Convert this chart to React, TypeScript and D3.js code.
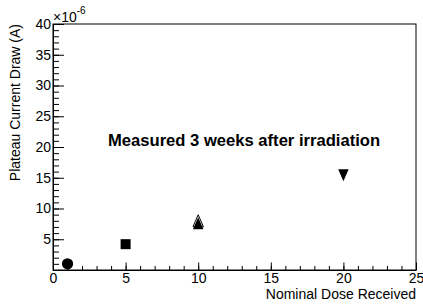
import { useEffect, useRef } from 'react';
import * as d3 from 'd3';

// dose (x) vs plateau current (y, in units of 1e-6 A)
const doses = [1, 5, 10, 10, 20];
const currents = [1.0, 4.2, 8.0, 7.6, 15.4];
const markers = ['circle', 'square', 'triangleUpOpen', 'triangleUp', 'triangleDown'];

const xTicks = [0, 5, 10, 15, 20, 25];
const yTicks = [5, 10, 15, 20, 25, 30, 35, 40];

const W = 423;
const H = 304;
const margin = { top: 24, right: 7, bottom: 34, left: 53 };
const FONT = '"Liberation Sans", Arial, Helvetica, sans-serif';

// ROOT-style triangles: bbox centred on the point, a bit taller than wide
const triUp = {
  draw(ctx: any, size: number) {
    const w = Math.sqrt(size) * 1.1;
    const h = w * 1.15;
    ctx.moveTo(0, -h / 2);
    ctx.lineTo(w / 2, h / 2);
    ctx.lineTo(-w / 2, h / 2);
    ctx.closePath();
  },
};
const triDown = {
  draw(ctx: any, size: number) {
    const w = Math.sqrt(size) * 1.1;
    const h = w * 1.15;
    ctx.moveTo(0, h / 2);
    ctx.lineTo(w / 2, -h / 2);
    ctx.lineTo(-w / 2, -h / 2);
    ctx.closePath();
  },
};

export default function App() {
  const svgRef = useRef<SVGSVGElement>(null);

  useEffect(() => {
    const svg = d3.select(svgRef.current);
    svg.selectAll('*').remove();

    const x = d3.scaleLinear().domain([0, 25]).range([margin.left, W - margin.right]);
    const y = d3.scaleLinear().domain([0, 40]).range([H - margin.bottom, margin.top]);

    // frame
    svg.append('rect')
      .attr('x', x(0)).attr('y', y(40))
      .attr('width', x(25) - x(0)).attr('height', y(0) - y(40))
      .attr('fill', 'none').attr('stroke', '#000').attr('stroke-width', 1);

    // x axis: minor then major
    svg.append('g')
      .attr('transform', `translate(0,${y(0)})`)
      .call(d3.axisBottom(x).tickValues(d3.range(0, 26, 1)).tickSizeInner(-4).tickSizeOuter(0).tickFormat(() => ''))
      .call(g => g.select('.domain').remove());
    const gx = svg.append('g')
      .attr('transform', `translate(0,${y(0)})`)
      .call(d3.axisBottom(x).tickValues(xTicks).tickSizeInner(-7.5).tickSizeOuter(0).tickPadding(3).tickFormat(d3.format('d')));
    gx.select('.domain').attr('stroke', '#000');
    gx.selectAll('text').attr('font-family', FONT).attr('font-size', 14).attr('fill', '#000');

    // y axis
    svg.append('g')
      .attr('transform', `translate(${x(0)},0)`)
      .call(d3.axisLeft(y).tickValues(d3.range(0, 41, 1)).tickSizeInner(-6).tickSizeOuter(0).tickFormat(() => ''))
      .call(g => g.select('.domain').remove());
    const gy = svg.append('g')
      .attr('transform', `translate(${x(0)},0)`)
      .call(d3.axisLeft(y).tickValues(yTicks).tickSizeInner(-11).tickSizeOuter(0).tickPadding(2).tickFormat(d3.format('d')));
    gy.select('.domain').attr('stroke', '#000');
    gy.selectAll('text').attr('font-family', FONT).attr('font-size', 14).attr('fill', '#000');

    // exponent
    const ex = svg.append('text')
      .attr('x', x(0)).attr('y', 22)
      .attr('font-family', FONT).attr('font-size', 14);
    ex.append('tspan').text('×10');
    ex.append('tspan').attr('dy', -8).attr('font-size', 10).text('-6');

    // axis titles
    svg.append('text')
      .attr('x', x(25)).attr('y', 299)
      .attr('text-anchor', 'end')
      .attr('font-family', FONT).attr('font-size', 14)
      .text('Nominal Dose Received');
    svg.append('text')
      .attr('transform', `translate(20,${y(40)}) rotate(-90)`)
      .attr('text-anchor', 'end')
      .attr('font-family', FONT).attr('font-size', 14)
      .text('Plateau Current Draw (A)');

    // annotation
    svg.append('text')
      .attr('x', 108).attr('y', 146)
      .attr('font-family', FONT).attr('font-size', 16.6).attr('font-weight', 'bold')
      .text('Measured 3 weeks after irradiation');

    // points
    const shapes: Record<string, any> = {
      circle: d3.symbol(d3.symbolCircle, 100),
      square: d3.symbol(d3.symbolSquare, 100),
      triangleUp: d3.symbol(triUp, 90),
      triangleUpOpen: d3.symbol(triUp, 90),
      triangleDown: d3.symbol(triDown, 90),
    };
    svg.append('g')
      .selectAll('path')
      .data(doses.map((d, i) => ({ d, c: currents[i], m: markers[i] })))
      .join('path')
      .attr('transform', p => `translate(${x(p.d)},${y(p.c)})`)
      .attr('d', p => shapes[p.m]())
      .attr('fill', p => (p.m.endsWith('Open') ? '#fff' : '#000'))
      .attr('stroke', '#000')
      .attr('stroke-width', p => (p.m.endsWith('Open') ? 1 : 0));
  }, []);

  return (
    <svg
      ref={svgRef}
      width={W}
      height={H}
      style={{ position: 'absolute', left: 0, top: 0, background: '#fff' }}
    />
  );
}
